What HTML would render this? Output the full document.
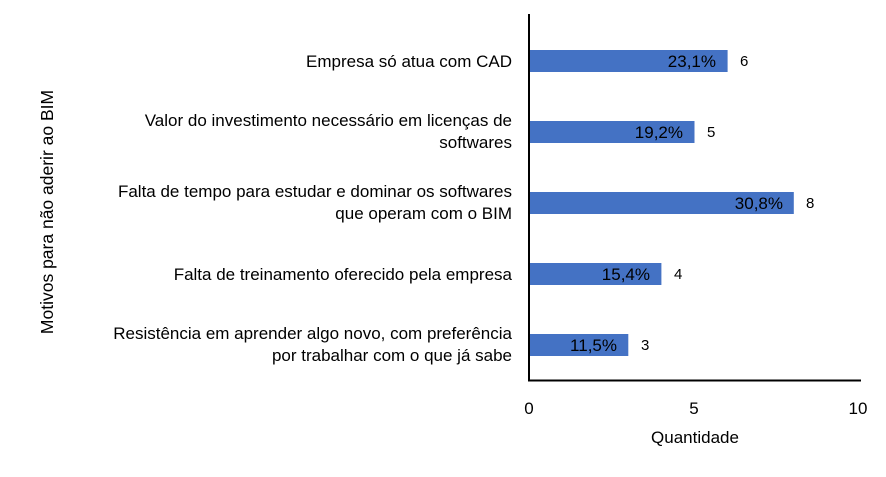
<!DOCTYPE html>
<html><head><meta charset="utf-8"><style>
body{margin:0;background:#fff;width:886px;height:472px;overflow:hidden;font-family:"Liberation Sans",sans-serif;}
</style></head><body>
<svg width="886" height="472" xmlns="http://www.w3.org/2000/svg" font-family="Liberation Sans, sans-serif" fill="#000">
<g fill="#4472C4">
<rect x="529" y="50" width="198.6" height="22"/>
<rect x="529" y="121" width="165.5" height="22"/>
<rect x="529" y="192" width="264.8" height="22"/>
<rect x="529" y="263" width="132.4" height="22"/>
<rect x="529" y="334" width="99.3" height="22"/>
</g>
<line x1="529" y1="14" x2="529" y2="381" stroke="#000" stroke-width="2"/>
<line x1="528" y1="380.5" x2="861" y2="380.5" stroke="#000" stroke-width="2"/>
<g font-size="17" text-anchor="end">
<text x="716" y="67">23,1%</text>
<text x="683" y="138">19,2%</text>
<text x="783" y="209">30,8%</text>
<text x="650" y="280">15,4%</text>
<text x="617" y="351">11,5%</text>
</g>
<g font-size="15">
<text x="740" y="66">6</text>
<text x="707" y="137">5</text>
<text x="806" y="208">8</text>
<text x="674" y="279">4</text>
<text x="641" y="350">3</text>
</g>
<g font-size="17" text-anchor="end">
<text x="512" y="67">Empresa só atua com CAD</text>
<text x="512" y="126">Valor do investimento necessário em licenças de</text>
<text x="512" y="148">softwares</text>
<text x="512" y="197">Falta de tempo para estudar e dominar os softwares</text>
<text x="512" y="219">que operam com o BIM</text>
<text x="512" y="280">Falta de treinamento oferecido pela empresa</text>
<text x="512" y="339">Resistência em aprender algo novo, com preferência</text>
<text x="512" y="361">por trabalhar com o que já sabe</text>
</g>
<g font-size="17" text-anchor="middle">
<text x="529" y="414">0</text>
<text x="694" y="414">5</text>
<text x="858" y="414">10</text>
</g>
<text x="695" y="443" font-size="17" text-anchor="middle">Quantidade</text>
<text transform="translate(53,212) rotate(-90)" font-size="17.5" text-anchor="middle">Motivos para não aderir ao BIM</text>
</svg>
</body></html>
